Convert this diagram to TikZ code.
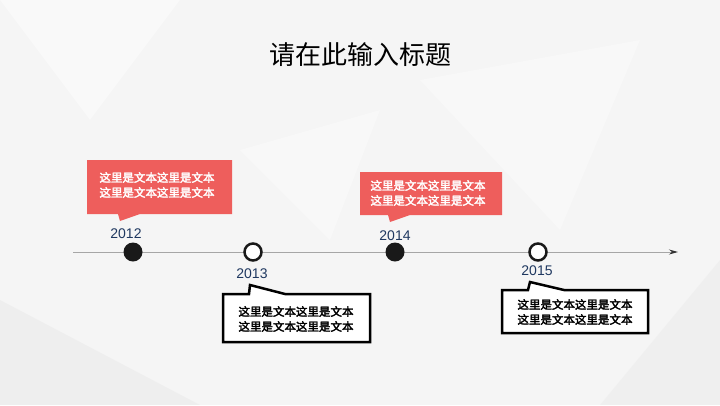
\documentclass[tikz,border=0pt]{standalone}
\usepackage{fontspec}
\setmainfont{Liberation Sans}
\newfontfamily\cjk{Noto Sans CJK SC}
\newfontfamily\cjkb[FakeBold=2.5]{Noto Sans CJK SC}
\usetikzlibrary{positioning,arrows.meta}
\definecolor{boxred}{RGB}{238,94,92}
\definecolor{yearblue}{RGB}{31,56,96}
\tikzset{>=stealth,
  year/.style={text=yearblue,font=\fontsize{14}{14}\selectfont},
  redtext/.style={text=white,font=\cjkb\fontsize{11.5}{15}\selectfont,align=left},
  blacktext/.style={text=black,font=\cjkb\fontsize{11.5}{15}\selectfont,align=left},
  dotfull/.style={circle,fill=black!90,minimum size=19pt,inner sep=0pt},
  dotopen/.style={circle,draw=black!90,line width=2.5pt,fill=white,minimum size=17pt,inner sep=0pt}}
\begin{document}
\begin{tikzpicture}[x=1pt,y=-1pt]
  \useasboundingbox (0,0) rectangle (720,405);
  \fill[gray!8] (0,0) rectangle (720,405);
  % background facets
  \fill[white,opacity=.4] (0,0) -- (180,0) -- (90,120) -- cycle;
  \fill[white,opacity=.3] (420,80) -- (640,40) -- (560,230) -- cycle;
  \fill[gray!20,opacity=.4] (0,300) -- (200,405) -- (0,405) -- cycle;
  \fill[gray!18,opacity=.4] (600,405) -- (720,260) -- (720,405) -- cycle;
  \fill[white,opacity=.3] (240,150) -- (380,110) -- (330,240) -- cycle;

  \node[font=\cjk\fontsize{26}{26}\selectfont] (title) at (360,55) {请在此输入标题};

  \coordinate (start) at (73,252);
  \coordinate (end) at (678,252);
  \draw[gray!70,line width=1pt,-{Stealth[length=9pt,width=5pt,black!80]}] (start) -- (end);

  \node[dotfull] (d12) at (133,252) {};
  \node[dotopen] (d13) at (253,252) {};
  \node[dotfull] (d14) at (395,252) {};
  \node[dotopen] (d15) at (538,252) {};

  \node[year] (y12) at (126,234) {2012};
  \node[year] (y13) at (252,274) {2013};
  \node[year] (y14) at (395,236) {2014};
  \node[year] (y15) at (537,271) {2015};

  % red callouts
  \fill[boxred] (87,160) -- (232,160) -- (232,214) -- (140,214) -- (120,221) -- (118,214) -- (87,214) -- cycle;
  \node[redtext] (t12) at (157,185) {这里是文本这里是文本\\这里是文本这里是文本};
  \fill[boxred] (360,172) -- (502,172) -- (502,215) -- (410,215) -- (390,222) -- (388,215) -- (360,215) -- cycle;
  \node[redtext] (t14) at (428,193) {这里是文本这里是文本\\这里是文本这里是文本};

  % black callouts
  \draw[line width=2.5pt,fill=white,line join=miter] (223,294) -- (249,294) -- (250,285) -- (285,294) -- (370,294) -- (370,342) -- (223,342) -- cycle;
  \node[blacktext] (t13) at (296,319) {这里是文本这里是文本\\这里是文本这里是文本};
  \draw[line width=2.5pt,fill=white,line join=miter] (502,290) -- (528,290) -- (530,282) -- (564,290) -- (648,290) -- (648,333) -- (502,333) -- cycle;
  \node[blacktext] (t15) at (575,312) {这里是文本这里是文本\\这里是文本这里是文本};
\end{tikzpicture}
\end{document}
